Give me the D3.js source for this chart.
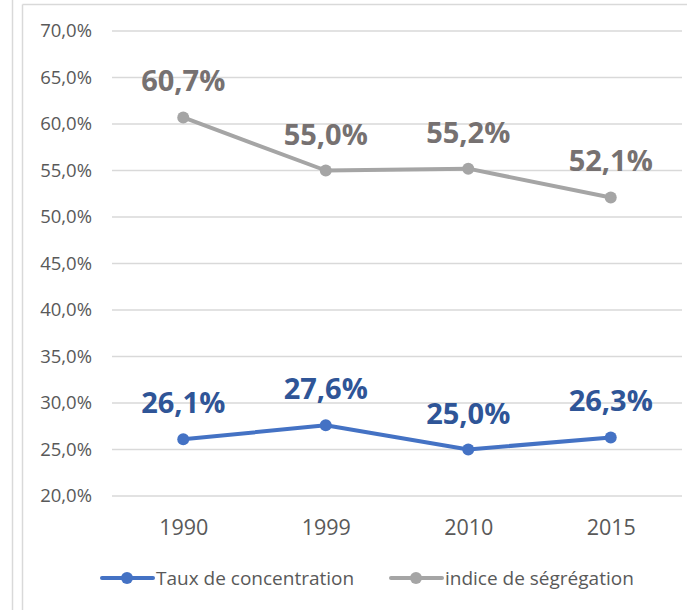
<!DOCTYPE html>
<html>
<head>
<meta charset="utf-8">
<script src="https://cdn.jsdelivr.net/npm/d3@7"></script>
<style>
  body { margin: 0; background: #fff; }
  svg { display: block; font-family: "Open Sans", sans-serif; }
</style>
</head>
<body>
<div id="chart"></div>
<script>
// data
let years = ["1990", "1999", "2010", "2015"];
let concentration = [0.261, 0.276, 0.250, 0.263];
let segregation = [0.607, 0.550, 0.552, 0.521];
let yTicks = [0.20, 0.25, 0.30, 0.35, 0.40, 0.45, 0.50, 0.55, 0.60, 0.65, 0.70];
let seriesNames = ["Taux de concentration", "indice de ségrégation"];

let width = 687,
	height = 610;

let svg = d3.select("#chart").append("svg")
	.attr("width", width)
	.attr("height", height);

// frame lines
svg.append("line").attr("x1", 12.5).attr("x2", 12.5).attr("y1", 0).attr("y2", height)
	.attr("stroke", "#d9d9d9").attr("stroke-width", 1.5);
svg.append("line").attr("x1", 22.5).attr("x2", 22.5).attr("y1", 4.5).attr("y2", height)
	.attr("stroke", "#d9d9d9").attr("stroke-width", 1.5);
svg.append("line").attr("x1", 22.5).attr("x2", width).attr("y1", 4.5).attr("y2", 4.5)
	.attr("stroke", "#d9d9d9").attr("stroke-width", 1.5);

let xScale = d3.scalePoint()
	.domain(years)
	.range([112, 682])
	.padding(0.5);

let yScale = d3.scaleLinear()
	.domain([0.2, 0.7])
	.range([496, 31]);

let fmt = v => d3.format(".1f")(v * 100).replace(".", ",") + "%";

// grid
svg.append("g").selectAll("line")
	.data(yTicks)
	.enter()
	.append("line")
	.attr("x1", 112)
	.attr("x2", 682)
	.attr("y1", d => yScale(d))
	.attr("y2", d => yScale(d))
	.attr("stroke", "#d9d9d9")
	.attr("stroke-width", 1.5);

// y axis
let yAxis = d3.axisLeft(yScale)
	.tickValues(yTicks)
	.tickFormat(fmt)
	.tickSize(0)
	.tickPadding(0);

let gy = svg.append("g")
	.attr("transform", "translate(92,0)")
	.call(yAxis);
gy.select(".domain").remove();
gy.selectAll("text")
	.attr("fill", "#595959")
	.style("font-size", "18.5px")
	.style("font-family", "Open Sans, sans-serif");

// x axis
let xAxis = d3.axisBottom(xScale).tickSize(0).tickPadding(0);
let gx = svg.append("g")
	.attr("transform", "translate(0,520)")
	.call(xAxis);
gx.select(".domain").remove();
gx.selectAll("text")
	.attr("fill", "#595959")
	.style("font-size", "21.5px")
	.style("font-family", "Open Sans, sans-serif");

let line = d3.line()
	.x((d, i) => xScale(years[i]))
	.y(d => yScale(d));

let series = [
	{ values: concentration, color: "#4472c4", label: "#2f5597" },
	{ values: segregation, color: "#a5a5a5", label: "#767171" }
];

series.forEach(s => {
	svg.append("path")
		.datum(s.values)
		.attr("d", line)
		.attr("fill", "none")
		.attr("stroke", s.color)
		.attr("stroke-width", 4)
		.attr("stroke-linejoin", "round");

	svg.append("g").selectAll("circle")
		.data(s.values)
		.enter()
		.append("circle")
		.attr("cx", (d, i) => xScale(years[i]))
		.attr("cy", d => yScale(d))
		.attr("r", 6)
		.attr("fill", s.color);

	svg.append("g").selectAll("text")
		.data(s.values)
		.enter()
		.append("text")
		.attr("x", (d, i) => xScale(years[i]))
		.attr("y", d => yScale(d) - 26)
		.attr("text-anchor", "middle")
		.attr("fill", s.label)
		.style("font-size", "29px")
		.style("font-weight", "bold")
		.text(d => fmt(d));
});

// legend
let legendX = [102, 391];
seriesNames.forEach((name, i) => {
	let g = svg.append("g").attr("transform", "translate(" + legendX[i] + ",578)");
	g.append("line")
		.attr("x1", 0).attr("x2", 51).attr("y1", 0).attr("y2", 0)
		.attr("stroke", series[i].color)
		.attr("stroke-width", 4)
		.attr("stroke-linecap", "round");
	g.append("circle").attr("cx", 25).attr("cy", 0).attr("r", 6).attr("fill", series[i].color);
	g.append("text")
		.attr("x", 54)
		.attr("y", 7)
		.attr("fill", "#595959")
		.style("font-size", "19px")
		.text(name);
});
</script>
</body>
</html>
